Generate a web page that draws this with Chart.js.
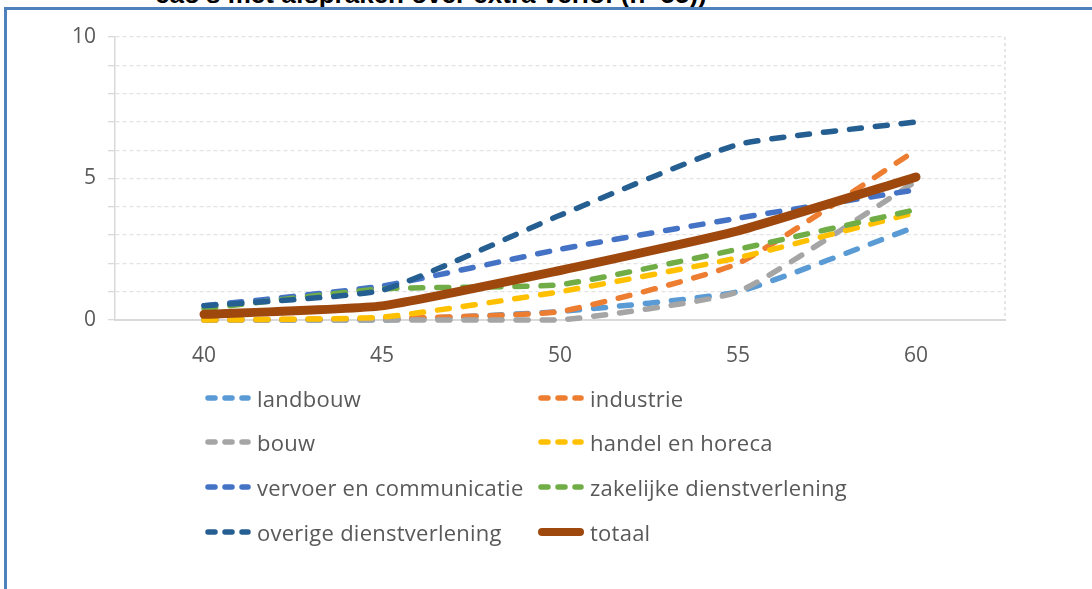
<!DOCTYPE html>
<html>
<head>
<meta charset="utf-8">
<script src="https://cdn.jsdelivr.net/npm/chart.js@4.4.1/dist/chart.umd.min.js"></script>
<style>
  html, body { margin: 0; padding: 0; background: #fff; }
  body { width: 1092px; height: 589px; position: relative; overflow: hidden; font-family: "Open Sans", Lato, sans-serif; }
  #title { position: absolute; left: 155px; top: -21px; font: bold 26px "Liberation Sans", Arial, sans-serif; color: #000; white-space: nowrap; }
  #frame { position: absolute; left: 4px; top: 7px; right: -10px; bottom: -10px; border-left: 3px solid #4F81BD; border-top: 3px solid #4F81BD; }
  #wrap { position: absolute; left: 0; top: 0; width: 1092px; height: 589px; }
  .lg { position: absolute; display: flex; align-items: center; font-size: 22px; letter-spacing: 0.25px; color: #595959; white-space: nowrap; }
  .lg svg { margin-right: 6px; }
</style>
</head>
<body>
<div id="title">cao's met afspraken over extra verlof (n=55))</div>
<div id="frame"></div>
<div id="wrap"><canvas id="chart" width="1092" height="589"></canvas></div>
<div id="legend"></div>
<script>
// --- data
const ages = ['40', '45', '50', '55', '60'];
const seriesNames = ['landbouw', 'industrie', 'bouw', 'handel en horeca', 'vervoer en communicatie', 'zakelijke dienstverlening', 'overige dienstverlening', 'totaal'];
const landbouw  = [0, 0, 0.3, 1.0, 3.3];
const industrie = [0, 0.05, 0.3, 2.0, 6.0];
const bouw      = [0, 0, 0, 1.0, 4.9];
const handel    = [0, 0.1, 1.0, 2.2, 3.8];
const vervoer   = [0.5, 1.2, 2.5, 3.6, 4.6];
const zakelijk  = [0.4, 1.1, 1.25, 2.5, 3.9];
const overige   = [0.5, 1.05, 3.7, 6.2, 7.0];
const totaal    = [0.2, 0.5, 1.75, 3.15, 5.05];
const yTicks = [0, 5, 10];

const seriesData = [landbouw, industrie, bouw, handel, vervoer, zakelijk, overige, totaal];
const colors = ['#5B9BD5', '#ED7D31', '#A5A5A5', '#FFC000', '#4472C4', '#70AD47', '#255E91', '#9E480E'];

const datasets = seriesNames.map((name, i) => {
    const solid = name === 'totaal';
    return {
        label: name,
        data: seriesData[i],
        borderColor: colors[i],
        backgroundColor: colors[i],
        borderWidth: solid ? 9 : 5.5,
        borderDash: solid ? [] : [12, 14],
        borderCapStyle: 'round',
        borderJoinStyle: 'round',
        pointRadius: 0,
        tension: 0.15,
        clip: 12,
        order: seriesNames.length - i // totaal on top
    };
});

// dashed right edge of the plot area
const rightEdge = {
    id: 'rightEdge',
    beforeDatasetsDraw(chart) {
        const { ctx, chartArea } = chart;
        ctx.save();
        ctx.strokeStyle = '#D9D9D9';
        ctx.lineWidth = 1.3;
        ctx.setLineDash([3, 3]);
        ctx.beginPath();
        ctx.moveTo(chartArea.right, chartArea.top);
        ctx.lineTo(chartArea.right, chartArea.bottom);
        ctx.stroke();
        ctx.restore();
    }
};

const tickFont = { family: '"Open Sans", Lato, sans-serif', size: 21 };

new Chart(document.getElementById('chart'), {
    type: 'line',
    data: { labels: ages, datasets: datasets },
    options: {
        responsive: false,
        animation: false,
        layout: { padding: { left: 0, top: 37, right: 87, bottom: 219 } },
        scales: {
            x: {
                offset: true,
                grid: { display: false },
                border: { display: true, color: '#D9D9D9', width: 2 },
                ticks: { color: '#595959', font: tickFont, padding: 15 },
                afterFit(scale) { scale.height = 50; }
            },
            y: {
                min: 0,
                max: 10,
                ticks: {
                    stepSize: 1,
                    color: '#595959',
                    font: tickFont,
                    padding: 12,
                    callback: v => yTicks.includes(v) ? v : ''
                },
                grid: { color: '#E3E3E3', lineWidth: 1.3, tickLength: 7, tickColor: '#D9D9D9', tickWidth: 1.3 },
                border: { display: true, color: '#D9D9D9', width: 1.5, dash: [4, 3] },
                afterFit(scale) { scale.width = 115; }
            }
        },
        plugins: {
            legend: { display: false },
            tooltip: { enabled: false }
        }
    },
    plugins: [rightEdge]
});

// --- legend (two columns, built from the datasets)
const legendCols = [205, 538];
const legendRows = [398, 442, 487, 532];
const legendBox = document.getElementById('legend');
datasets.forEach((ds, i) => {
    const item = document.createElement('div');
    item.className = 'lg';
    item.style.left = legendCols[i % 2] + 'px';
    item.style.top = (legendRows[Math.floor(i / 2)] - 15) + 'px';
    const solid = ds.borderDash.length === 0;
    item.innerHTML =
        '<svg width="46" height="12"><line x1="' + (solid ? 4 : 3) + '" y1="6" x2="' + (solid ? 42 : 43) + '" y2="6" stroke="' + ds.borderColor +
        '" stroke-width="' + (solid ? 8 : 5.5) + '" stroke-linecap="round"' + (solid ? '' : ' stroke-dasharray="7 10"') + '/></svg>' +
        '<span>' + ds.label + '</span>';
    legendBox.appendChild(item);
});
</script>
</body>
</html>
